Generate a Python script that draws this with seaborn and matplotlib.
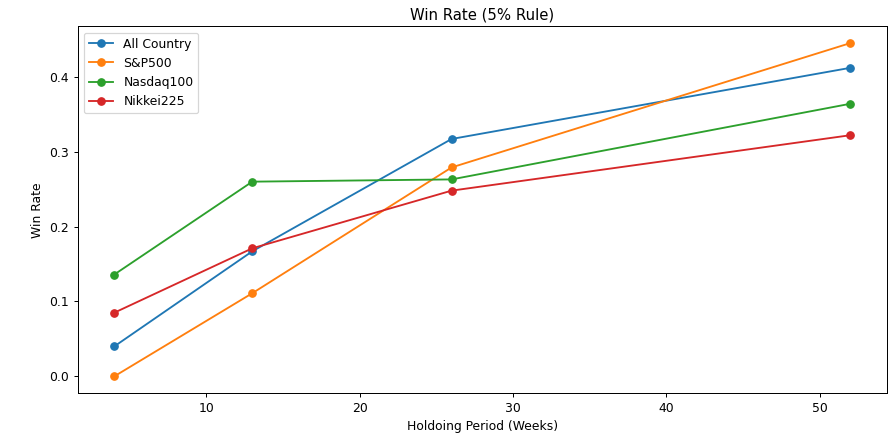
import pandas as pd
import matplotlib
matplotlib.use("Agg")
import matplotlib.pyplot as plt
import seaborn as sns

# holding periods in weeks
weeks = [4, 13, 26, 52]

# win rates
all_country = [0.040, 0.167, 0.317, 0.412]
sp500 = [0.000, 0.111, 0.279, 0.445]
nasdaq100 = [0.136, 0.260, 0.263, 0.364]
nikkei225 = [0.085, 0.171, 0.248, 0.322]

series_names = ['All Country', 'S&P500', 'Nasdaq100', 'Nikkei225']
series_values = [all_country, sp500, nasdaq100, nikkei225]

rows = []
for name, vals in zip(series_names, series_values):
    for w, v in zip(weeks, vals):
        rows.append({'weeks': w, 'win_rate': v, 'index': name})
df = pd.DataFrame(rows)

# original looks like a 10in wide figure shrunk down, so use dpi 89
fig = plt.figure(figsize=(10, 437 / 89), dpi=89)
ax = fig.add_axes([0.0871, 0.1007, 0.9095, 0.8387])

sns.lineplot(data=df, x='weeks', y='win_rate', hue='index',
             hue_order=series_names, palette='tab10', marker='o',
             markersize=6, linewidth=1.5, ax=ax)

# solid markers like plain matplotlib
for line in ax.lines:
    line.set_markeredgecolor(line.get_color())
    line.set_markeredgewidth(1.0)

handles, labels = ax.get_legend_handles_labels()
for h in handles:
    h.set_markeredgecolor(h.get_color())
    h.set_markeredgewidth(1.0)
ax.legend(handles, labels, loc='upper left')

ax.set_title('Win Rate (5% Rule)')
ax.set_xlabel('Holdoing Period (Weeks)')
ax.set_ylabel('Win Rate')

fig.savefig('out.png', dpi=89)
